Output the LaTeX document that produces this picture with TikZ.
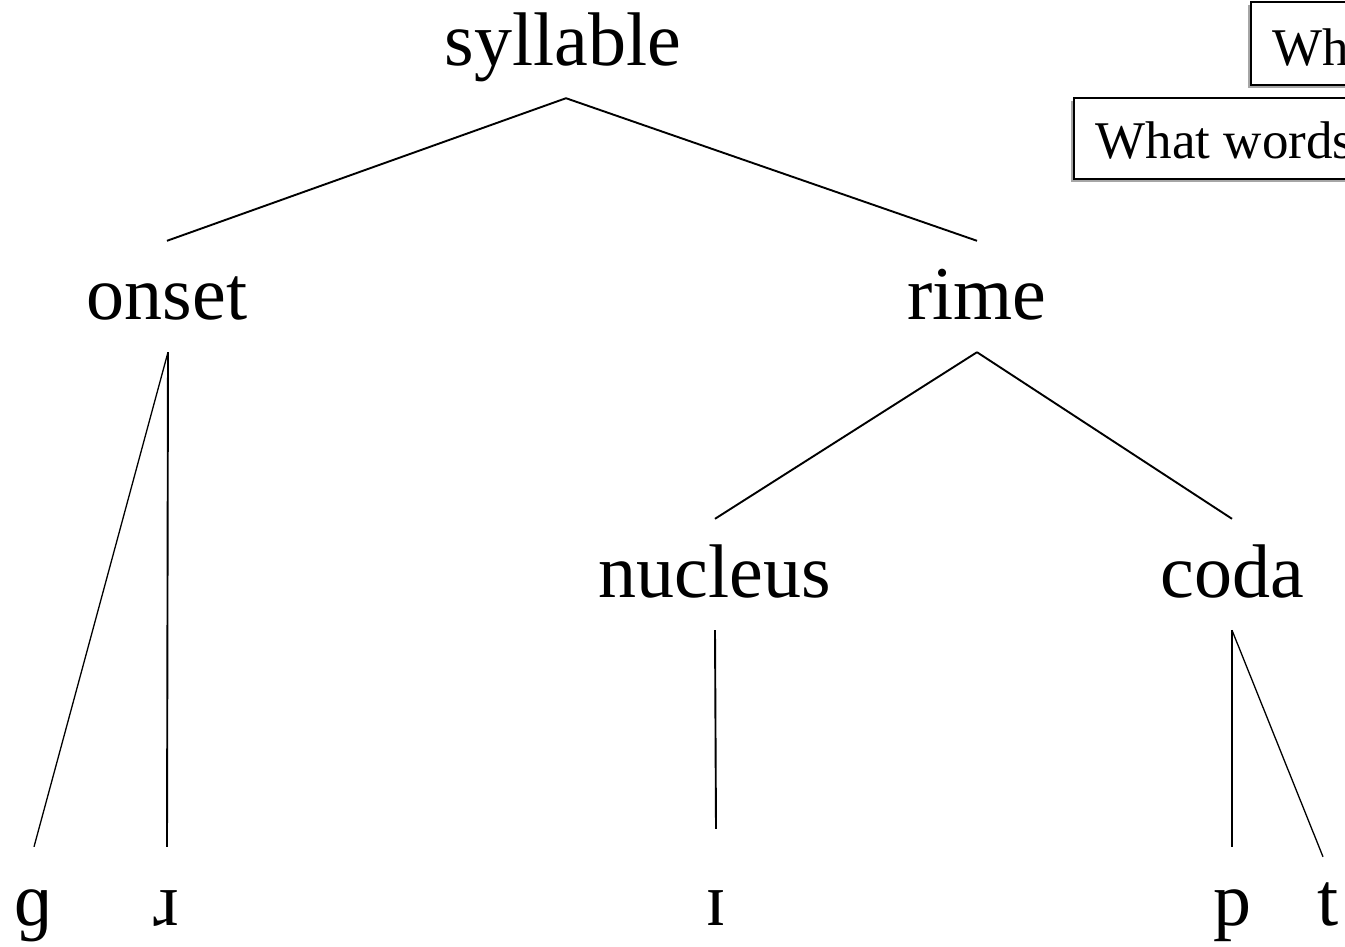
\documentclass[tikz,border=0pt]{standalone}
\usepackage{fontspec}
\setmainfont{Liberation Serif}
\usetikzlibrary{shadows}
\begin{document}
\begin{tikzpicture}[x=1pt,y=-1pt,
  lbl/.style={font=\fontsize{76}{90}\selectfont, inner sep=0pt, text height=78pt, text depth=33pt, anchor=base},
  edge/.style={line width=1.9pt},
  thinedge/.style={line width=1.3pt},
  qbox/.style={draw, line width=1.8pt, fill=white, font=\fontsize{53}{64}\selectfont,
    anchor=north west, inner xsep=22pt, inner ysep=0pt, text depth=0pt,
    drop shadow={shadow xshift=-3pt, shadow yshift=-3pt, opacity=0.35, fill=black}}]
\useasboundingbox (0,0) rectangle (1345,946);
\clip (0,0) rectangle (1345,946);
\fill[white] (0,0) rectangle (1345,946);
% question boxes
\node[qbox, minimum height=83pt, text height=45pt] (q1) at (1250,1) {\makebox[150pt][l]{Wh}};
\node[qbox, minimum height=81pt, text height=41pt] (q2) at (1073,97) {\makebox[300pt][l]{What words}};
% tree labels
\node[lbl] (syl) at (563,65) {syllable};
\node[lbl] (on) at (167,319) {onset};
\node[lbl] (ri) at (977,319) {rime};
\node[lbl] (nu) at (715,597) {nucleus};
\node[lbl] (co) at (1232,597) {coda};
\node[lbl] (g) at (34,925) {ɡ};
\node[lbl] (r) at (166,925) {ɹ};
\node[lbl] (i) at (716,925) {ɪ};
\node[lbl] (p) at (1232,925) {p};
\node[lbl] (t) at (1328,925) {t};
% branches
\draw[edge] ([xshift=3pt]syl.south) -- (on.north);
\draw[edge] ([xshift=3pt]syl.south) -- (ri.north);
\draw[thinedge] ([xshift=1pt]on.south) -- (g.north);
\draw[edge] ([xshift=1pt]on.south) -- ([xshift=1pt]r.north);
\draw[edge] (ri.south) -- (nu.north);
\draw[edge] (ri.south) -- (co.north);
\draw[edge] (nu.south) -- ([yshift=18pt]i.north);
\draw[edge] (co.south) -- (p.north);
\draw[thinedge] (co.south) -- ([xshift=-5pt,yshift=-10pt]t.north);
\end{tikzpicture}
\end{document}
